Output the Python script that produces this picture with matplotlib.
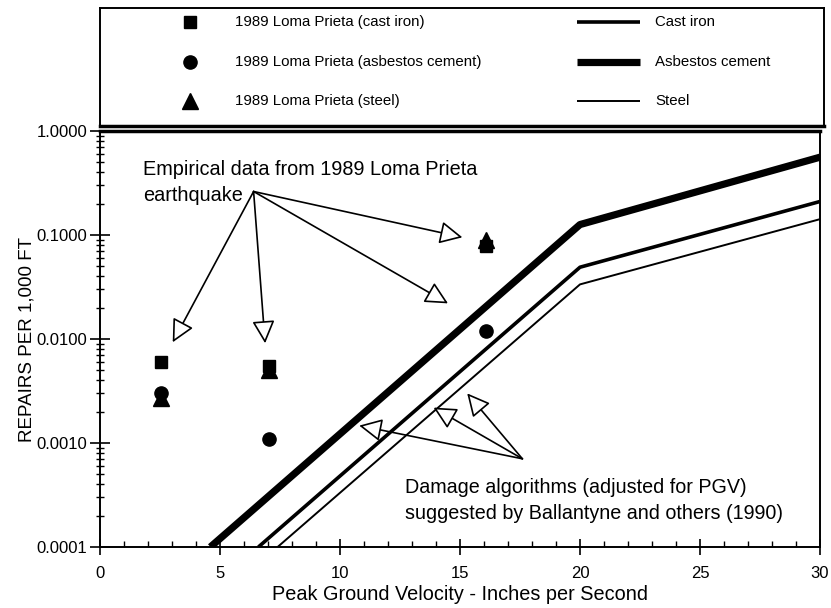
import matplotlib
matplotlib.use("Agg")
import matplotlib.pyplot as plt
from matplotlib.ticker import FixedLocator, LogLocator, NullFormatter, FuncFormatter

plt.rcParams['font.family'] = ['Liberation Sans', 'DejaVu Sans']

# Empirical repair rates, 1989 Loma Prieta
pgv_obs = [2.55, 7.05, 16.1]
cast_iron_obs = [0.0060, 0.0055, 0.078]
asbestos_obs = [0.0030, 0.0011, 0.012]
steel_obs = [0.0027, 0.0050, 0.090]

# Damage algorithms (Ballantyne and others, 1990), adjusted for PGV
alg_asbestos_x = [4.6, 20, 30]
alg_asbestos_y = [0.0001, 0.126, 0.56]
alg_cast_x = [6.6, 20, 30]
alg_cast_y = [0.0001, 0.049, 0.21]
alg_steel_x = [7.4, 20, 30]
alg_steel_y = [0.0001, 0.0335, 0.142]

fig = plt.figure(figsize=(8.31, 6.08), dpi=100)
ax = fig.add_axes([100/831, 61/608, 720/831, 416/608])

ax.plot(alg_asbestos_x, alg_asbestos_y, color='black', lw=5.2, solid_capstyle='butt', zorder=3)
ax.plot(alg_cast_x, alg_cast_y, color='black', lw=2.6, solid_capstyle='butt', zorder=3)
ax.plot(alg_steel_x, alg_steel_y, color='black', lw=1.4, solid_capstyle='butt', zorder=3)

ax.plot(pgv_obs, steel_obs, linestyle='none', marker='^', ms=12, color='black', zorder=4)
ax.plot(pgv_obs, cast_iron_obs, linestyle='none', marker='s', ms=9, color='black', zorder=4)
ax.plot(pgv_obs, asbestos_obs, linestyle='none', marker='o', ms=9.5, color='black', zorder=4)

ax.set_yscale('log')
ax.set_xlim(0, 30)
ax.set_ylim(0.0001, 1.0)
ax.xaxis.set_major_locator(FixedLocator([0, 5, 10, 15, 20, 25, 30]))
ax.xaxis.set_minor_locator(FixedLocator(range(0, 31)))
ax.yaxis.set_major_locator(FixedLocator([0.0001, 0.001, 0.01, 0.1, 1.0]))
ax.yaxis.set_minor_locator(LogLocator(base=10, subs=range(2, 10)))
ax.yaxis.set_minor_formatter(NullFormatter())
ax.yaxis.set_major_formatter(FuncFormatter(lambda v, p: f"{v:.4f}"))
ax.tick_params(which='both', labelsize=12, top=False, right=False)
ax.tick_params(axis='x', which='major', direction='inout', length=11, width=1.2, pad=8)
ax.tick_params(axis='x', which='minor', direction='in', length=4, width=1.0)
ax.tick_params(axis='y', which='major', direction='inout', length=14, width=1.2, pad=2)
ax.tick_params(axis='y', which='minor', direction='inout', length=6, width=1.0)
for s in ax.spines.values():
    s.set_linewidth(1.4)
ax.spines['top'].set_linewidth(2.5)

ax.set_xlabel('Peak Ground Velocity - Inches per Second', fontsize=14.3, labelpad=3)
ax.set_ylabel('REPAIRS PER 1,000 FT', fontsize=13.5, labelpad=1)

arrow_kw = dict(arrowstyle='-|>,head_length=0.7,head_width=0.35', fc='white', ec='black',
                lw=1.2, mutation_scale=20, shrinkA=0, shrinkB=0)

ax.text(1.8, 0.53, 'Empirical data from 1989 Loma Prieta\nearthquake', fontsize=14.3,
        va='top', ha='left', linespacing=1.5)
emp_origin = (6.4, 0.262)
for tgt in [(3.03, 0.0093), (6.88, 0.0091), (14.5, 0.022), (15.1, 0.095)]:
    ax.annotate('', xy=tgt, xytext=emp_origin, arrowprops=arrow_kw, zorder=5)

ax.text(12.7, 0.00046, 'Damage algorithms (adjusted for PGV)\nsuggested by Ballantyne and others (1990)',
        fontsize=14.2, va='top', ha='left', linespacing=1.45)
dmg_origin = (17.6, 0.000705)
for tgt in [(10.8, 0.00147), (13.9, 0.00219), (15.3, 0.0030)]:
    ax.annotate('', xy=tgt, xytext=dmg_origin, arrowprops=arrow_kw, zorder=5)

# Key box above the plot
lg = fig.add_axes([100/831, 482/608, 724/831, 118/608])
lg.set_xlim(0, 724)
lg.set_ylim(118, 0)
lg.set_xticks([])
lg.set_yticks([])
for s in lg.spines.values():
    s.set_linewidth(1.4)
lg.spines['bottom'].set_linewidth(2.5)

rows = [14, 54, 93]
marker_items = [('s', 9, '1989 Loma Prieta (cast iron)'),
                ('o', 9.5, '1989 Loma Prieta (asbestos cement)'),
                ('^', 12, '1989 Loma Prieta (steel)')]
line_items = [(2.6, 'Cast iron'), (5.2, 'Asbestos cement'), (1.4, 'Steel')]
for yy, (m, ms, lab) in zip(rows, marker_items):
    lg.plot([90], [yy], marker=m, ms=ms, color='black', linestyle='none')
    lg.text(135, yy, lab, fontsize=10.8, va='center', ha='left')
for yy, (lw, lab) in zip(rows, line_items):
    lg.plot([477, 540], [yy, yy], color='black', lw=lw, solid_capstyle='butt')
    lg.text(555, yy, lab, fontsize=10.8, va='center', ha='left')

fig.savefig('out.png', dpi=100)
